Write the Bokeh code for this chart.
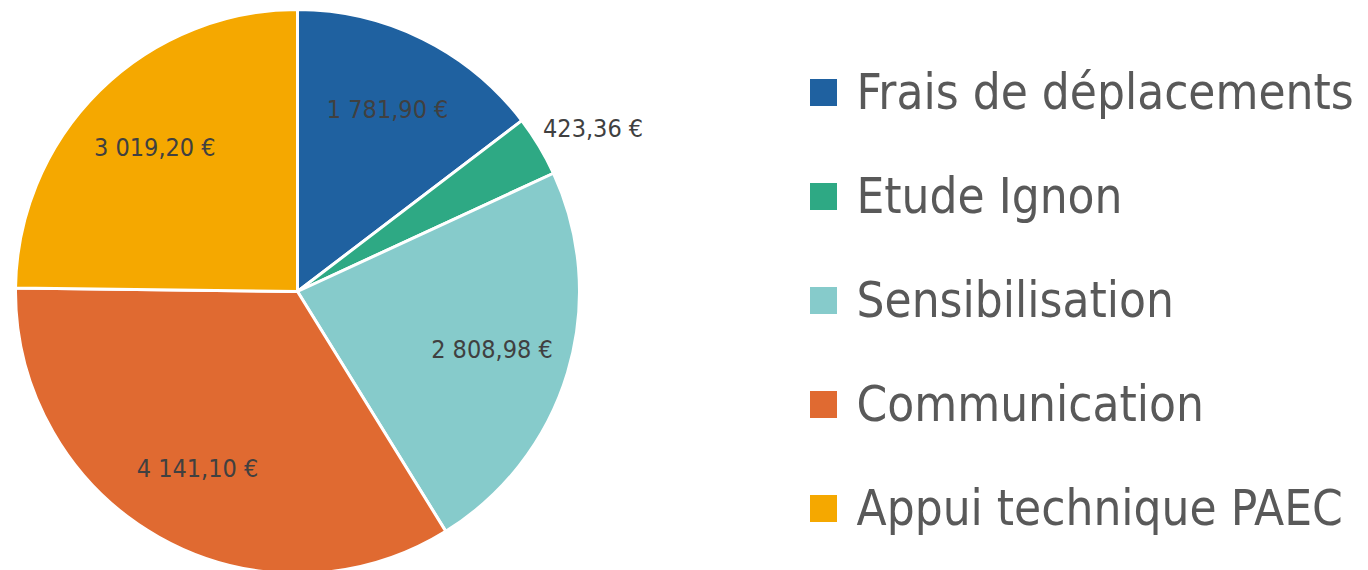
import math
from bokeh.plotting import figure
from bokeh.models import Range1d, ColumnDataSource
from bokeh.core.properties import value
from bokeh.embed import file_html
from bokeh.resources import INLINE

categories = ["Frais de déplacements", "Etude Ignon", "Sensibilisation", "Communication", "Appui technique PAEC"]
amounts = [1781.90, 423.36, 2808.98, 4141.10, 3019.20]
amount_labels = ["1 781,90 €", "423,36 €", "2 808,98 €", "4 141,10 €", "3 019,20 €"]
colors = ["#1f61a0", "#2ea984", "#86cbcb", "#e06a31", "#f5a800"]
label_outside = [False, True, False, False, False]

W, H = 1368, 570
CX, CY, R = 297, H - 291, 282
FONT = "DejaVu Sans Condensed, sans-serif"

total = sum(amounts)
starts, ends, lx, ly = [], [], [], []
cum = 0.0
for a, out in zip(amounts, label_outside):
    f0 = cum / total
    cum += a
    f1 = cum / total
    starts.append(math.pi / 2 - f0 * 2 * math.pi)
    ends.append(math.pi / 2 - f1 * 2 * math.pi)
    mid = math.pi / 2 - (f0 + f1) / 2 * 2 * math.pi
    rr = R * (1.12 if out else 0.72)
    lx.append(CX + rr * math.cos(mid) + (25 if out else 0))
    ly.append(CY + rr * math.sin(mid))

src = ColumnDataSource(dict(start=starts, end=ends, color=colors, lx=lx, ly=ly, lab=amount_labels))

p = figure(width=W, height=H, x_range=Range1d(0, W), y_range=Range1d(0, H),
           output_backend="svg", toolbar_location=None, min_border=0)
p.axis.visible = False
p.grid.visible = False
p.outline_line_color = None
p.background_fill_color = "white"
p.border_fill_color = "white"

p.wedge(x=CX, y=CY, radius=R, start_angle="start", end_angle="end", direction="clock",
        fill_color="color", line_color="white", line_width=3, source=src)

p.text(x="lx", y="ly", text="lab", source=src, text_align="center", text_baseline="middle",
       text_font=value(FONT), text_font_size="25px", text_color="#404040")

# legend
LX, LY0, STEP = 823, H - 92, 104
leg = ColumnDataSource(dict(
    x=[LX] * len(categories),
    y=[LY0 - i * STEP for i in range(len(categories))],
    tx=[856] * len(categories),
    color=colors, name=categories))
p.rect(x="x", y="y", width=27, height=27, fill_color="color", line_color=None, source=leg)
p.text(x="tx", y="y", text="name", source=leg, text_align="left", text_baseline="middle",
       text_font=value(FONT), text_font_size="49px", text_color="#595959")

open("out.html", "w").write(file_html(p, INLINE))
